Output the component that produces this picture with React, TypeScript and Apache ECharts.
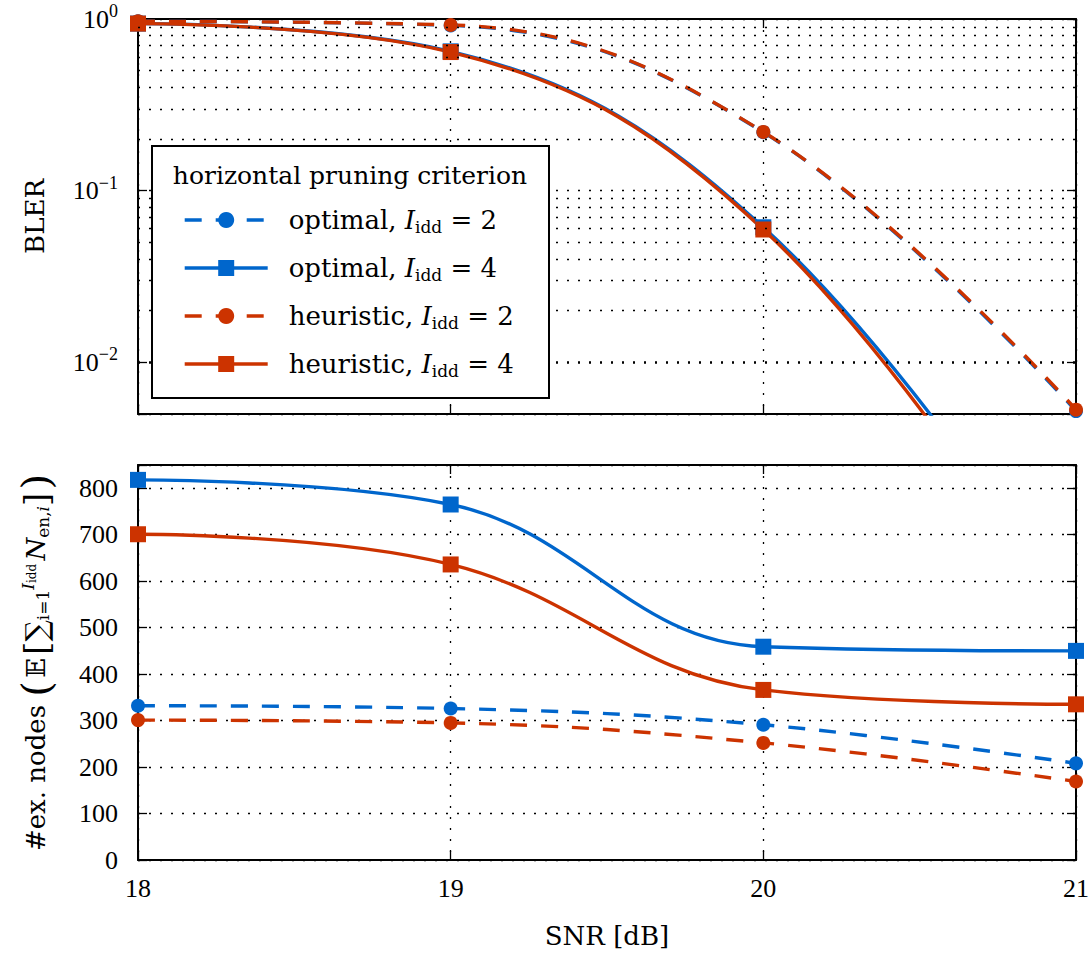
import React, { useEffect, useRef } from 'react';
import * as echarts from 'echarts';

// ---------- data ----------
const snr = [18, 19, 20, 21];

const blerOptimal2 = [0.97, 0.918, 0.219, 0.0052];
const blerOptimal4 = [0.94, 0.648, 0.0612, 0.00032];
const blerHeuristic2 = [0.97, 0.923, 0.22, 0.0053];
const blerHeuristic4 = [0.94, 0.642, 0.0594, 0.00026];

const nodesOptimal2 = [332, 326, 291, 208];
const nodesOptimal4 = [818, 765, 459, 450];
const nodesHeuristic2 = [301, 295, 252, 169];
const nodesHeuristic4 = [701, 636, 366, 335];

const seriesNames = [
  'optimal, I_idd = 2',
  'optimal, I_idd = 4',
  'heuristic, I_idd = 2',
  'heuristic, I_idd = 4',
];
const legendCriteria = ['optimal', 'optimal', 'heuristic', 'heuristic'];
const legendIterations = [2, 4, 2, 4];
const legendTitle = 'horizontal pruning criterion';

const blerMinorGrid = [
  0.006, 0.007, 0.008, 0.009,
  0.02, 0.03, 0.04, 0.05, 0.06, 0.07, 0.08, 0.09,
  0.2, 0.3, 0.4, 0.5, 0.6, 0.7, 0.8, 0.9,
];

// ---------- styles ----------
const BLUE = '#0066CC';
const RED = '#CC3300';
const TEXT_FONT = 'DejaVu Serif';
const NUM_FONT = 'Liberation Serif';
const LINE_W = 3.4;

const dotted = { color: '#000', width: 1.3, type: [2, 9] as number[] };

function makeSeries(
  name: string,
  values: number[],
  color: string,
  dashed: boolean,
  square: boolean,
  xi: number,
  yi: number
) {
  return {
    name,
    type: 'line',
    xAxisIndex: xi,
    yAxisIndex: yi,
    data: snr.map((x, i) => [x, values[i]]),
    smooth: 0.4,
    symbol: square ? 'rect' : 'circle',
    symbolSize: square ? 16 : 14,
    showSymbol: true,
    clip: true,
    lineStyle: { color, width: LINE_W, type: dashed ? [17, 14] : 'solid' },
    itemStyle: { color },
    emphasis: { disabled: true },
    z: 3,
  };
}

const TOP = { left: 138, top: 19, width: 938, height: 395 };
const BOT = { left: 138, top: 465, width: 938, height: 395 };

function xAxisBase(gridIndex: number, position: 'top' | 'bottom', labels: boolean, grid: boolean) {
  return {
    type: 'value',
    gridIndex,
    position,
    min: 18,
    max: 21,
    interval: 1,
    axisLine: { show: true, onZero: false, lineStyle: { color: '#000', width: 2 } },
    axisTick: { show: true, inside: true, length: 9, lineStyle: { color: '#000', width: 1.3 } },
    axisLabel: {
      show: labels,
      margin: 15,
      color: '#000',
      fontFamily: NUM_FONT,
      fontSize: 26,
    },
    splitLine: { show: grid, lineStyle: dotted },
  };
}

export default function App() {
  const ref = useRef<HTMLDivElement>(null);

  useEffect(() => {
    if (!ref.current) return;
    const chart = echarts.init(ref.current, undefined, { renderer: 'svg' });

    const logLabel = (v: number) => {
      const e = Math.log10(v);
      const r = Math.round(e);
      if (Math.abs(e - r) > 1e-6) return '';
      return `{n|10}{s|${r < 0 ? '\u2212' + -r : r}}`;
    };

    const option: any = {
      animation: false,
      backgroundColor: '#fff',
      grid: [
        { ...TOP, outerBoundsMode: 'none', containLabel: false },
        { ...BOT, outerBoundsMode: 'none', containLabel: false },
      ],
      xAxis: [
        xAxisBase(0, 'bottom', false, true),
        xAxisBase(0, 'top', false, false),
        {
          ...xAxisBase(1, 'bottom', true, true),
          name: 'SNR [dB]',
          nameLocation: 'middle',
          nameGap: 63,
          nameMoveOverlap: false,
          nameTextStyle: { color: '#000', fontFamily: TEXT_FONT, fontSize: 26 },
        },
        xAxisBase(1, 'top', false, false),
      ],
      yAxis: [
        {
          type: 'log',
          logBase: 10,
          gridIndex: 0,
          position: 'left',
          min: 0.005,
          max: 1,
          name: 'BLER',
          nameLocation: 'middle',
          nameRotate: 90,
          nameGap: 90,
          nameMoveOverlap: false,
          nameTextStyle: { color: '#000', fontFamily: TEXT_FONT, fontSize: 26 },
          axisLine: { show: true, onZero: false, lineStyle: { color: '#000', width: 2 } },
          axisTick: { show: true, inside: true, length: 9, lineStyle: { color: '#000', width: 1.3 } },
          axisLabel: {
            show: true,
            margin: 20,
            formatter: logLabel,
            rich: {
              n: { fontFamily: NUM_FONT, fontSize: 26, color: '#000' },
              s: { fontFamily: NUM_FONT, fontSize: 18, color: '#000', padding: [0, 0, 16, 0] },
            },
          },
          splitLine: { show: true, lineStyle: dotted },
        },
        {
          type: 'log',
          logBase: 10,
          gridIndex: 0,
          position: 'right',
          min: 0.005,
          max: 1,
          axisLine: { show: true, onZero: false, lineStyle: { color: '#000', width: 2 } },
          axisTick: { show: true, inside: true, length: 9, lineStyle: { color: '#000', width: 1.3 } },
          axisLabel: { show: false },
          splitLine: { show: false },
        },
        {
          type: 'value',
          gridIndex: 1,
          position: 'left',
          min: 0,
          max: 850,
          interval: 100,
          name:
            '#ex. nodes {p|(}{sp| }{bb|\u{1D53C}}{sp| }{b|[}{sum|\u2211}{sub|i=1}{supi|I}{supsub|idd}{sp| }{it|N}{sub|en,}{subi|i}{b|]}{sp| }{p|)}',
          nameLocation: 'middle',
          nameRotate: 90,
          nameGap: 82,
          nameMoveOverlap: false,
          nameTextStyle: {
            color: '#000',
            fontFamily: TEXT_FONT,
            fontSize: 26,
            rich: {
              p: { fontFamily: TEXT_FONT, fontSize: 40, color: '#000' },
              b: { fontFamily: TEXT_FONT, fontSize: 34, color: '#000' },
              bb: { fontFamily: TEXT_FONT, fontSize: 26, color: '#000' },
              sp: { fontFamily: TEXT_FONT, fontSize: 10, color: '#000' },
              sum: { fontFamily: TEXT_FONT, fontSize: 30, color: '#000' },
              sub: { fontFamily: TEXT_FONT, fontSize: 17, color: '#000', padding: [14, 0, 0, 0] },
              subi: {
                fontFamily: TEXT_FONT,
                fontSize: 17,
                fontStyle: 'italic',
                color: '#000',
                padding: [14, 0, 0, 0],
              },
              supi: {
                fontFamily: TEXT_FONT,
                fontSize: 17,
                fontStyle: 'italic',
                color: '#000',
                padding: [0, 0, 16, 0],
              },
              supsub: { fontFamily: TEXT_FONT, fontSize: 12, color: '#000', padding: [0, 0, 8, 0] },
              it: { fontFamily: TEXT_FONT, fontSize: 26, fontStyle: 'italic', color: '#000' },
            },
          },
          axisLine: { show: true, onZero: false, lineStyle: { color: '#000', width: 2 } },
          axisTick: { show: true, inside: true, length: 9, lineStyle: { color: '#000', width: 1.3 } },
          axisLabel: {
            show: true,
            margin: 20,
            color: '#000',
            fontFamily: NUM_FONT,
            fontSize: 26,
            formatter: (v: number) => (v % 100 === 0 ? String(v) : ''),
          },
          splitLine: { show: true, lineStyle: dotted },
        },
        {
          type: 'value',
          gridIndex: 1,
          position: 'right',
          min: 0,
          max: 850,
          interval: 100,
          axisLine: { show: true, onZero: false, lineStyle: { color: '#000', width: 2 } },
          axisTick: { show: true, inside: true, length: 9, lineStyle: { color: '#000', width: 1.3 } },
          axisLabel: { show: false },
          splitLine: { show: false },
        },
      ],
      legend: {
        show: true,
        orient: 'vertical',
        left: 183,
        top: 207,
        padding: 0,
        itemWidth: 83,
        itemHeight: 20,
        itemGap: 20,
        z: 20,
        selectedMode: false,
        data: seriesNames,
        lineStyle: { width: LINE_W },
        formatter: (name: string) => {
          const i = seriesNames.indexOf(name);
          return `{g| }{t|${legendCriteria[i]}, }{it|I}{sub|idd}{t| = ${legendIterations[i]}}`;
        },
        textStyle: {
          color: '#000',
          fontFamily: TEXT_FONT,
          fontSize: 26,
          rich: {
            g: { width: 16, fontSize: 10 },
            t: { fontFamily: TEXT_FONT, fontSize: 26, color: '#000', lineHeight: 30 },
            it: { fontFamily: TEXT_FONT, fontSize: 26, fontStyle: 'italic', color: '#000', lineHeight: 30 },
            sub: { fontFamily: TEXT_FONT, fontSize: 17, color: '#000', padding: [13, 0, 0, 0] },
          },
        },
      },
      graphic: [
        {
          type: 'rect',
          z: 10,
          shape: { x: 152, y: 146, width: 397, height: 252 },
          style: { fill: '#fff', stroke: '#000', lineWidth: 2 },
        },
        {
          type: 'text',
          z: 11,
          x: 350,
          y: 175,
          style: {
            text: legendTitle,
            fontFamily: TEXT_FONT,
            fontSize: 25,
            fill: '#000',
            align: 'center',
            verticalAlign: 'middle',
          },
        },
      ],
      series: [
        {
          name: 'minorGrid',
          type: 'line',
          xAxisIndex: 0,
          yAxisIndex: 0,
          data: [],
          silent: true,
          z: 1,
          markLine: {
            silent: true,
            symbol: ['none', 'none'],
            label: { show: false },
            emphasis: { disabled: true },
            lineStyle: dotted,
            data: blerMinorGrid.map((v) => ({ yAxis: v })),
          },
        },
        makeSeries(seriesNames[0], blerOptimal2, BLUE, true, false, 0, 0),
        makeSeries(seriesNames[1], blerOptimal4, BLUE, false, true, 0, 0),
        makeSeries(seriesNames[2], blerHeuristic2, RED, true, false, 0, 0),
        makeSeries(seriesNames[3], blerHeuristic4, RED, false, true, 0, 0),
        makeSeries(seriesNames[0], nodesOptimal2, BLUE, true, false, 2, 2),
        makeSeries(seriesNames[1], nodesOptimal4, BLUE, false, true, 2, 2),
        makeSeries(seriesNames[2], nodesHeuristic2, RED, true, false, 2, 2),
        makeSeries(seriesNames[3], nodesHeuristic4, RED, false, true, 2, 2),
      ],
    };

    chart.setOption(option);
    return () => chart.dispose();
  }, []);

  return (
    <div
      ref={ref}
      style={{ position: 'absolute', left: 0, top: 0, width: 1091, height: 956, background: '#fff' }}
    />
  );
}
